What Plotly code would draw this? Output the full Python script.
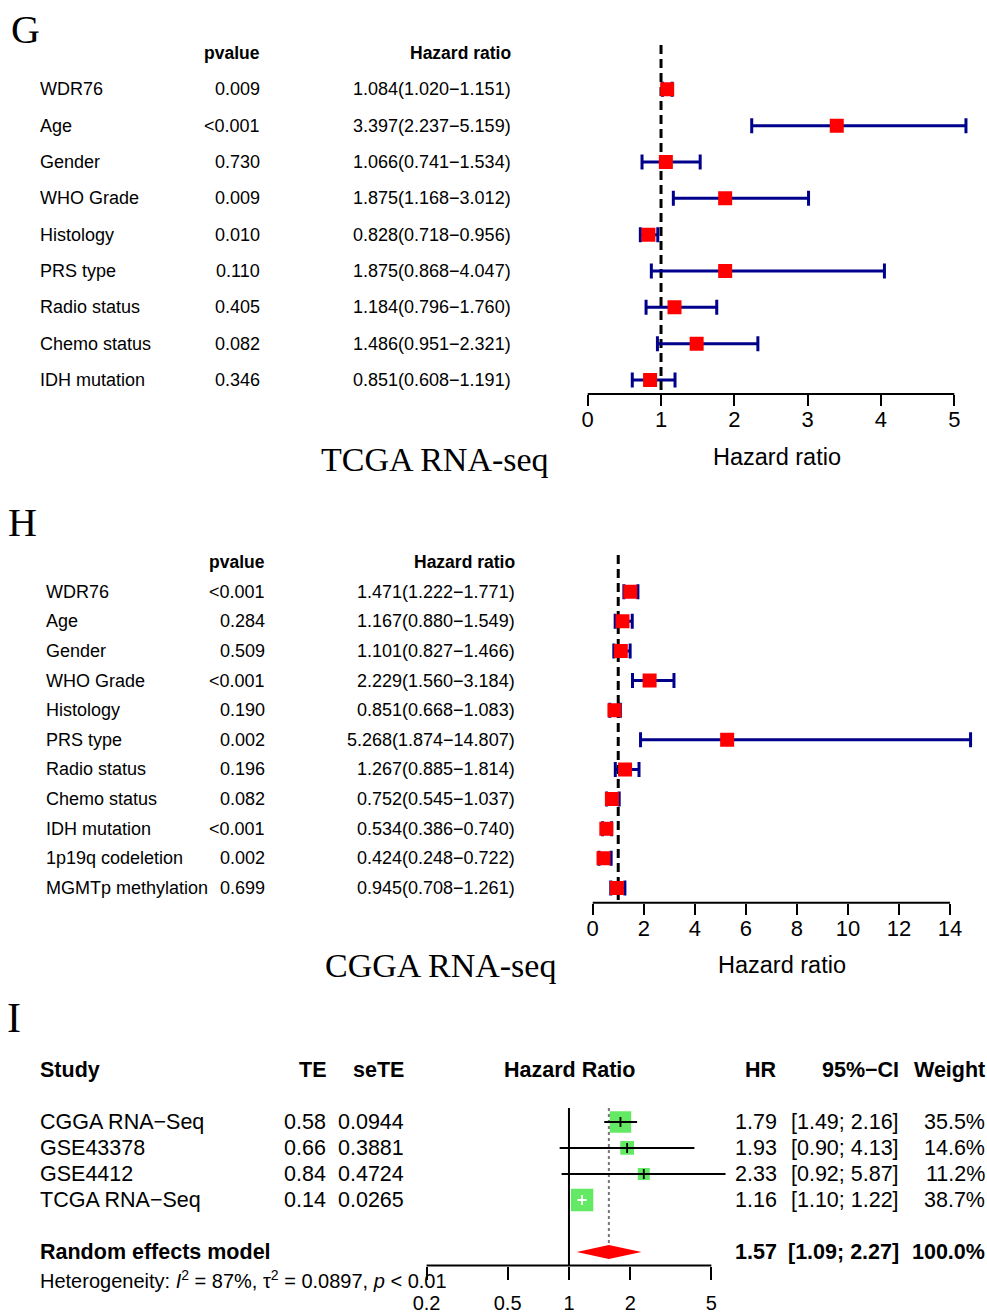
import math
import plotly.graph_objects as go

# ---------------- data ----------------
g_vars = ["WDR76", "Age", "Gender", "WHO Grade", "Histology", "PRS type",
          "Radio status", "Chemo status", "IDH mutation"]
g_pvalue = ["0.009", "<0.001", "0.730", "0.009", "0.010", "0.110", "0.405", "0.082", "0.346"]
g_hr = [1.084, 3.397, 1.066, 1.875, 0.828, 1.875, 1.184, 1.486, 0.851]
g_lo = [1.020, 2.237, 0.741, 1.168, 0.718, 0.868, 0.796, 0.951, 0.608]
g_hi = [1.151, 5.159, 1.534, 3.012, 0.956, 4.047, 1.760, 2.321, 1.191]
g_ticks = [0, 1, 2, 3, 4, 5]

h_vars = ["WDR76", "Age", "Gender", "WHO Grade", "Histology", "PRS type",
          "Radio status", "Chemo status", "IDH mutation", "1p19q codeletion",
          "MGMTp methylation"]
h_pvalue = ["<0.001", "0.284", "0.509", "<0.001", "0.190", "0.002", "0.196",
            "0.082", "<0.001", "0.002", "0.699"]
h_hr = [1.471, 1.167, 1.101, 2.229, 0.851, 5.268, 1.267, 0.752, 0.534, 0.424, 0.945]
h_lo = [1.222, 0.880, 0.827, 1.560, 0.668, 1.874, 0.885, 0.545, 0.386, 0.248, 0.708]
h_hi = [1.771, 1.549, 1.466, 3.184, 1.083, 14.807, 1.814, 1.037, 0.740, 0.722, 1.261]
h_ticks = [0, 2, 4, 6, 8, 10, 12, 14]

i_studies = ["CGGA RNA\u2212Seq", "GSE43378", "GSE4412", "TCGA RNA\u2212Seq"]
i_te = [0.58, 0.66, 0.84, 0.14]
i_sete = [0.0944, 0.3881, 0.4724, 0.0265]
i_hr = [1.79, 1.93, 2.33, 1.16]
i_lo = [1.49, 0.90, 0.92, 1.10]
i_hi = [2.16, 4.13, 5.87, 1.22]
i_weight = [35.5, 14.6, 11.2, 38.7]
re_hr, re_lo, re_hi, re_weight = 1.57, 1.09, 2.27, 100.0
het_i2, het_tau2, het_p = 87, 0.0897, "0.01"
i_ticks = [0.2, 0.5, 1, 2, 5]

# ---------------- style ----------------
W, H = 987, 1313
SANS = "Liberation Sans, Arial, sans-serif"
SERIF = "Liberation Serif, Times New Roman, serif"
NAVY = "#00008B"
RED = "#FF0000"
GREEN = "#22E022"
ci_colors = ["black", "black", "black", "white"]
LEFT_FIX = -2   # annotation padding compensation
RIGHT_FIX = 3


def px(x):
    return x / W


def py(y):
    return 1 - y / H


fig = go.Figure()
annotations = []
shapes = []


def txt(text, x, y, yref, anchor="left", size=18, bold=False, family=SANS):
    if bold:
        text = "<b>" + text + "</b>"
    if anchor == "left":
        x = x + LEFT_FIX
    elif anchor == "right":
        x = x + RIGHT_FIX
    annotations.append(dict(text=text, x=px(x), y=y, xref="paper", yref=yref,
                            xanchor=anchor, yanchor="middle", showarrow=False,
                            font=dict(family=family, size=size, color="black")))


def forest_panel(idx, names, pvals, hr, lo, hi, xname, yname, name_x, p_x, hr_x,
                 dash_top, title, title_x, title_y, axis_title_x, axis_title_y, ticks):
    rows = list(range(len(names)))
    fig.add_trace(go.Scatter(
        x=hr, y=rows, mode="markers", xaxis=xname, yaxis=yname,
        marker=dict(symbol="square", size=14, color=RED, line=dict(width=0)),
        error_x=dict(type="data", symmetric=False,
                     array=[h - m for h, m in zip(hi, hr)],
                     arrayminus=[m - l for m, l in zip(hr, lo)],
                     color=NAVY, thickness=3, width=7.5),
        showlegend=False, hoverinfo="skip"))
    yref = yname
    for r, n, p, m, l, h in zip(rows, names, pvals, hr, lo, hi):
        txt(n, name_x, r, yref, "left", 18)
        txt(p, p_x, r, yref, "right", 18)
        txt(f"{m:.3f}({l:.3f}\u2212{h:.3f})", hr_x, r, yref, "right", 18)
    txt("pvalue", p_x, -1.0, yref, "right", 17.5, bold=True)
    txt("Hazard ratio", hr_x, -1.0, yref, "right", 17.5, bold=True)
    xr = "x" if idx == 1 else f"x{idx}"
    # reference line at HR = 1
    shapes.append(dict(type="line", xref=xr, yref=yname, x0=1, x1=1,
                       y0=dash_top, y1=len(names) - 0.5, layer="below",
                       line=dict(color="black", width=3, dash="9px,5px")))
    # axis line
    shapes.append(dict(type="line", xref=xr, yref=f"{yname} domain", x0=ticks[0], x1=ticks[-1],
                       y0=0, y1=0, line=dict(color="black", width=2)))
    annotations.append(dict(text=title, x=px(title_x), y=py(title_y), xref="paper", yref="paper",
                            xanchor="center", yanchor="middle", showarrow=False,
                            font=dict(family=SERIF, size=34, color="black")))
    annotations.append(dict(text="Hazard ratio", x=px(axis_title_x), y=py(axis_title_y),
                            xref="paper", yref="paper", xanchor="center", yanchor="middle",
                            showarrow=False, font=dict(family=SANS, size=23.5, color="black")))


# ---------------- Panel G ----------------
forest_panel(1, g_vars, g_pvalue, g_hr, g_lo, g_hi, "x", "y", 40, 259, 510,
             -1.22, "TCGA RNA-seq", 435, 460, 777, 457, g_ticks)
# ---------------- Panel H ----------------
forest_panel(2, h_vars, h_pvalue, h_hr, h_lo, h_hi, "x2", "y2", 46, 264, 514,
             -1.24, "CGGA RNA-seq", 440, 965, 782, 965, h_ticks)

# ---------------- Panel I ----------------
rows_i = list(range(len(i_studies)))
re_row = len(i_studies) + 1
fig.add_trace(go.Scatter(
    x=i_hr, y=rows_i, mode="markers", xaxis="x3", yaxis="y3",
    marker=dict(symbol="square", size=[3.6 * math.sqrt(w) for w in i_weight],
                color=GREEN, line=dict(width=0)),
    showlegend=False, hoverinfo="skip"))
for r, l, h, c in zip(rows_i, i_lo, i_hi, ci_colors):
    fig.add_trace(go.Scatter(x=[l, h], y=[r, r], mode="lines", xaxis="x3", yaxis="y3",
                             line=dict(color=c, width=1.8), showlegend=False, hoverinfo="skip"))
for r, m, c in zip(rows_i, i_hr, ci_colors):
    fig.add_trace(go.Scatter(x=[m], y=[r], mode="markers", xaxis="x3", yaxis="y3",
                             marker=dict(symbol="line-ns", size=7, line=dict(color=c, width=1.8)),
                             showlegend=False, hoverinfo="skip"))
dh = 0.27
fig.add_trace(go.Scatter(
    x=[re_lo, re_hr, re_hi, re_hr, re_lo], y=[re_row, re_row - dh, re_row, re_row + dh, re_row],
    mode="lines", fill="toself", fillcolor=RED, line=dict(width=0, color=RED),
    xaxis="x3", yaxis="y3", showlegend=False, hoverinfo="skip"))

shapes.append(dict(type="line", xref="x3", yref="y3", x0=1, x1=1, y0=-0.54, y1=5.52,
                   line=dict(color="black", width=2)))
shapes.append(dict(type="line", xref="x3", yref="y3", x0=re_hr, x1=re_hr,
                   y0=-0.54, y1=re_row - dh, layer="below",
                   line=dict(color="#777777", width=2, dash="dot")))
shapes.append(dict(type="line", xref="x3", yref="y3 domain", x0=i_ticks[0],
                   x1=i_ticks[-1], y0=0, y1=0, line=dict(color="black", width=2)))

S = 21.5
hdr = -2.0
txt("Study", 40, hdr, "y3", "left", S, bold=True)
txt("TE", 325, hdr, "y3", "right", S, bold=True)
txt("seTE", 403, hdr, "y3", "right", S, bold=True)
txt("Hazard Ratio", 569, hdr, "y3", "center", S, bold=True)
txt("HR", 776, hdr, "y3", "right", S, bold=True)
txt("95%\u2212CI", 898, hdr, "y3", "right", S, bold=True)
txt("Weight", 984, hdr, "y3", "right", S, bold=True)
for r, s, te, se, m, l, h, w in zip(rows_i, i_studies, i_te, i_sete, i_hr, i_lo, i_hi, i_weight):
    txt(s, 40, r, "y3", "left", S)
    txt(f"{te:.2f}", 325, r, "y3", "right", S)
    txt(f"{se:.4f}", 403, r, "y3", "right", S)
    txt(f"{m:.2f}", 776, r, "y3", "right", S)
    txt(f"[{l:.2f}; {h:.2f}]", 898, r, "y3", "right", S)
    txt(f"{w:.1f}%", 984, r, "y3", "right", S)
txt("Random effects model", 40, re_row, "y3", "left", S, bold=True)
txt(f"{re_hr:.2f}", 776, re_row, "y3", "right", S, bold=True)
txt(f"[{re_lo:.2f}; {re_hi:.2f}]", 898, re_row, "y3", "right", S, bold=True)
txt(f"{re_weight:.1f}%", 984, re_row, "y3", "right", S, bold=True)
txt(f"Heterogeneity: <i>I</i><sup>2</sup> = {het_i2}%, \u03c4<sup>2</sup> = {het_tau2}, "
    f"<i>p</i> < {het_p}", 40, py(1279), "paper", "left", 20)

# panel letters
for letter, x, y, s in [("G", 25, 30, 40), ("H", 22, 522, 40), ("I", 14, 1018, 42)]:
    annotations.append(dict(text=letter, x=px(x), y=py(y), xref="paper", yref="paper",
                            xanchor="center", yanchor="middle", showarrow=False,
                            font=dict(family=SERIF, size=s, color="black")))

axis_common = dict(showgrid=False, zeroline=False, showline=False, ticks="outside",
                   tickcolor="black", tickwidth=2, fixedrange=True, automargin=False)
yaxis_common = dict(visible=False, showgrid=False, zeroline=False, fixedrange=True,
                    automargin=False)

fig.update_layout(
    width=W, height=H, margin=dict(l=0, r=0, t=0, b=0, autoexpand=False),
    paper_bgcolor="white", plot_bgcolor="white", showlegend=False,
    xaxis=dict(domain=[px(565.7), px(976.3)], range=[-0.3, 5.3], anchor="y",
               tickvals=g_ticks, ticktext=[str(t) for t in g_ticks], ticklen=11,
               ticklabelstandoff=-5,
               tickfont=dict(family=SANS, size=22, color="black"), **axis_common),
    yaxis=dict(domain=[py(394), py(31.2)], range=[8.385, -1.6], anchor="x", **yaxis_common),
    xaxis2=dict(domain=[px(572.3), px(980.6)], range=[-0.8, 15.2], anchor="y2",
                tickvals=h_ticks, ticktext=[str(t) for t in h_ticks], ticklen=11,
                ticklabelstandoff=-5,
                tickfont=dict(family=SANS, size=22, color="black"), **axis_common),
    yaxis2=dict(domain=[py(902.7), py(544.3)], range=[10.5, -1.6], anchor="x2", **yaxis_common),
    xaxis3=dict(domain=[px(416.2), px(742.1)], type="log", range=[-0.75, 0.85], anchor="y3",
                tickvals=i_ticks, ticktext=[str(t) for t in i_ticks], ticklen=13,
                ticklabelstandoff=6,
                tickfont=dict(family=SANS, size=20, color="black"), **axis_common),
    yaxis3=dict(domain=[py(1265.5), py(1054.4)], range=[5.52, -2.6], anchor="x3", **yaxis_common),
    annotations=annotations, shapes=shapes,
)

fig.write_html("out.html")
